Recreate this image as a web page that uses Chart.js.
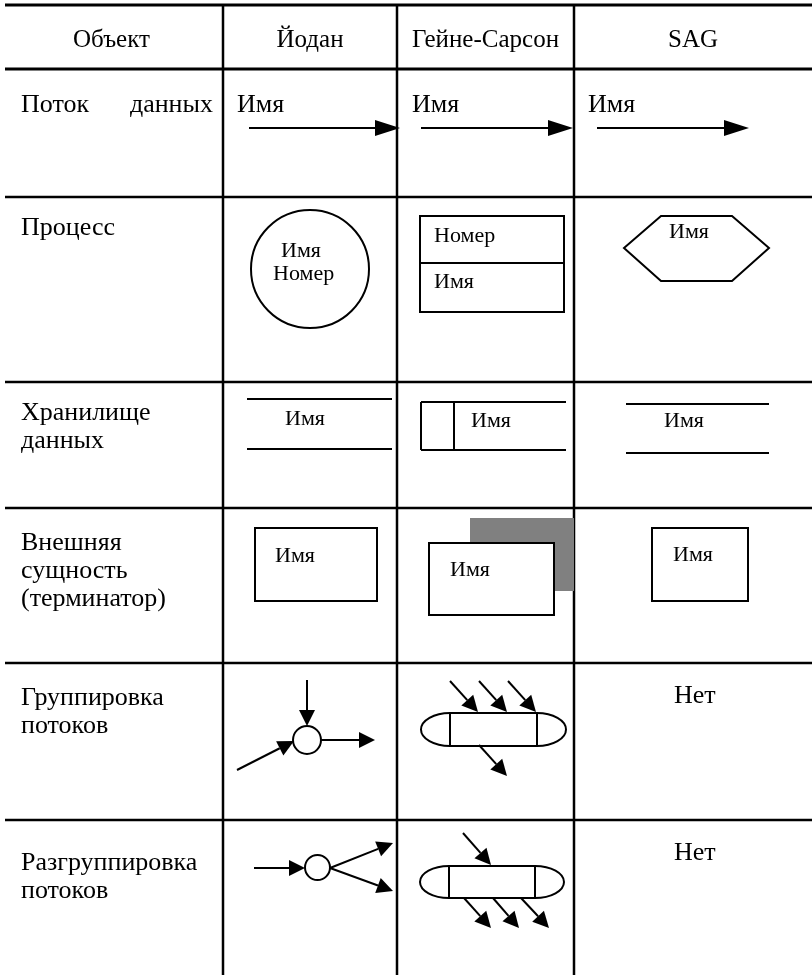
<!DOCTYPE html>
<html>
<head>
<meta charset="utf-8">
<script src="https://cdn.jsdelivr.net/npm/chart.js@4/dist/chart.umd.min.js"></script>
<style>
  html, body { margin: 0; padding: 0; background: #fff; }
  canvas { display: block; }
</style>
</head>
<body>
<canvas id="table" width="812" height="975"></canvas>
<script>
// table content
const columns = ['Объект', 'Йодан', 'Гейне-Сарсон', 'SAG'];
const rowLabels = [
  ['Поток данных'],
  ['Процесс'],
  ['Хранилище', 'данных'],
  ['Внешняя', 'сущность', '(терминатор)'],
  ['Группировка', 'потоков'],
  ['Разгруппировка', 'потоков']
];
const noEquivalent = 'Нет';   // SAG has no grouping symbols
const symbolName = 'Имя';
const symbolNumber = 'Номер';

// grid of the table, in the same units as the (hidden) axes
const colEdges = [5, 223, 397, 574, 812];
const rowEdges = [5, 69, 197, 382, 508, 663, 820, 975];
const labelBaselines = [112, 235, 420, 550, 705, 870];

const FONT = '"Liberation Serif", "Times New Roman", serif';

// symbols for each notation, drawn in axis units
const symbols = [
  // data flow
  { t: 'text', s: symbolName, x: 237, y: 112, f: 26 },
  { t: 'arrow', a: [249, 128, 400, 128], hl: 25, hw: 8 },
  { t: 'text', s: symbolName, x: 412, y: 112, f: 26 },
  { t: 'arrow', a: [421, 128, 573, 128], hl: 25, hw: 8 },
  { t: 'text', s: symbolName, x: 588, y: 112, f: 26 },
  { t: 'arrow', a: [597, 128, 749, 128], hl: 25, hw: 8 },
  // process
  { t: 'circle', x: 310, y: 269, r: 59 },
  { t: 'text', s: symbolName, x: 281, y: 257, f: 22 },
  { t: 'text', s: symbolNumber, x: 273, y: 280, f: 22 },
  { t: 'rect', a: [420, 216, 564, 312] },
  { t: 'line', a: [420, 263, 564, 263] },
  { t: 'text', s: symbolNumber, x: 434, y: 242, f: 22 },
  { t: 'text', s: symbolName, x: 434, y: 288, f: 22 },
  { t: 'poly', p: [624, 248, 661, 216, 732, 216, 769, 248, 732, 281, 661, 281] },
  { t: 'text', s: symbolName, x: 669, y: 238, f: 22 },
  // data store
  { t: 'line', a: [247, 399, 392, 399] },
  { t: 'line', a: [247, 449, 392, 449] },
  { t: 'text', s: symbolName, x: 285, y: 425, f: 22 },
  { t: 'line', a: [421, 402, 566, 402] },
  { t: 'line', a: [421, 450, 566, 450] },
  { t: 'line', a: [421, 402, 421, 450] },
  { t: 'line', a: [454, 402, 454, 450] },
  { t: 'text', s: symbolName, x: 471, y: 427, f: 22 },
  { t: 'line', a: [626, 404, 769, 404] },
  { t: 'line', a: [626, 453, 769, 453] },
  { t: 'text', s: symbolName, x: 664, y: 427, f: 22 },
  // external entity
  { t: 'rect', a: [255, 528, 377, 601] },
  { t: 'text', s: symbolName, x: 275, y: 562, f: 22 },
  { t: 'fill', a: [470, 518, 574, 591], c: '#808080' },
  { t: 'rect', a: [429, 543, 554, 615], bg: '#fff' },
  { t: 'text', s: symbolName, x: 450, y: 576, f: 22 },
  { t: 'rect', a: [652, 528, 748, 601] },
  { t: 'text', s: symbolName, x: 673, y: 561, f: 22 },
  // flow grouping
  { t: 'circle', x: 307, y: 740, r: 14 },
  { t: 'arrow', a: [307, 680, 307, 726], hl: 16, hw: 8 },
  { t: 'arrow', a: [237, 770, 294, 741], hl: 16, hw: 8 },
  { t: 'arrow', a: [321, 740, 375, 740], hl: 16, hw: 8 },
  { t: 'capsule', a: [450, 713, 537, 746], cap: 29 },
  { t: 'arrow', a: [450, 681, 478, 712], hl: 16, hw: 8 },
  { t: 'arrow', a: [479, 681, 507, 712], hl: 16, hw: 8 },
  { t: 'arrow', a: [508, 681, 536, 712], hl: 16, hw: 8 },
  { t: 'arrow', a: [479, 745, 507, 776], hl: 16, hw: 8 },
  { t: 'text', s: noEquivalent, x: 674, y: 703, f: 26 },
  // flow ungrouping
  { t: 'circle', x: 317.5, y: 867.5, r: 12.5 },
  { t: 'arrow', a: [254, 868, 305, 868], hl: 16, hw: 8 },
  { t: 'arrow', a: [330, 868, 393, 843], hl: 16, hw: 8 },
  { t: 'arrow', a: [330, 868, 393, 891], hl: 16, hw: 8 },
  { t: 'capsule', a: [449, 866, 535, 898], cap: 29 },
  { t: 'arrow', a: [463, 833, 491, 865], hl: 16, hw: 8 },
  { t: 'arrow', a: [464, 898, 491, 928], hl: 16, hw: 8 },
  { t: 'arrow', a: [493, 898, 519, 928], hl: 16, hw: 8 },
  { t: 'arrow', a: [521, 898, 549, 928], hl: 16, hw: 8 },
  { t: 'text', s: noEquivalent, x: 674, y: 860, f: 26 }
];

const tablePlugin = {
  id: 'tablePlugin',
  afterDraw(chart) {
    const ctx = chart.ctx;
    const X = v => chart.scales.x.getPixelForValue(v);
    const Y = v => chart.scales.y.getPixelForValue(v);
    const ink = '#000';

    ctx.save();
    ctx.strokeStyle = ink;
    ctx.fillStyle = ink;

    // horizontal rules
    rowEdges.slice(0, -1).forEach((y, i) => {
      ctx.lineWidth = i < 2 ? 3 : 2.5;
      ctx.beginPath();
      ctx.moveTo(X(colEdges[0]), Y(y));
      ctx.lineTo(X(colEdges[colEdges.length - 1]), Y(y));
      ctx.stroke();
    });
    // vertical rules
    ctx.lineWidth = 2.5;
    colEdges.slice(1, -1).forEach(x => {
      ctx.beginPath();
      ctx.moveTo(X(x), Y(rowEdges[0]));
      ctx.lineTo(X(x), Y(rowEdges[rowEdges.length - 1]));
      ctx.stroke();
    });

    // header
    ctx.font = '25px ' + FONT;
    ctx.textAlign = 'center';
    ctx.textBaseline = 'alphabetic';
    columns.forEach((c, i) => {
      const left = i === 0 ? 0 : colEdges[i];
      ctx.fillText(c, X((left + colEdges[i + 1]) / 2), Y(47));
    });

    // row labels
    ctx.font = '26px ' + FONT;
    ctx.textAlign = 'left';
    rowLabels.forEach((lines, r) => {
      lines.forEach((line, k) => {
        const y = Y(labelBaselines[r] + k * 28);
        const words = line.split(' ');
        if (r === 0 && words.length > 1) {
          // justified line
          ctx.fillText(words[0], X(21), y);
          ctx.textAlign = 'right';
          ctx.fillText(words[1], X(213), y);
          ctx.textAlign = 'left';
        } else {
          ctx.fillText(line, X(21), y);
        }
      });
    });

    // symbols
    ctx.lineWidth = 2;
    symbols.forEach(s => {
      if (s.t === 'text') {
        ctx.font = s.f + 'px ' + FONT;
        ctx.fillText(s.s, X(s.x), Y(s.y));
      } else if (s.t === 'line') {
        ctx.beginPath();
        ctx.moveTo(X(s.a[0]), Y(s.a[1]));
        ctx.lineTo(X(s.a[2]), Y(s.a[3]));
        ctx.stroke();
      } else if (s.t === 'rect' || s.t === 'fill') {
        const x0 = X(s.a[0]), y0 = Y(s.a[1]);
        const w = X(s.a[2]) - x0, h = Y(s.a[3]) - y0;
        if (s.t === 'fill') {
          ctx.fillStyle = s.c;
          ctx.fillRect(x0, y0, w, h);
          ctx.fillStyle = ink;
        } else {
          if (s.bg) { ctx.fillStyle = s.bg; ctx.fillRect(x0, y0, w, h); ctx.fillStyle = ink; }
          ctx.strokeRect(x0, y0, w, h);
        }
      } else if (s.t === 'circle') {
        ctx.beginPath();
        ctx.arc(X(s.x), Y(s.y), X(s.x + s.r) - X(s.x), 0, Math.PI * 2);
        ctx.stroke();
      } else if (s.t === 'poly') {
        ctx.beginPath();
        for (let i = 0; i < s.p.length; i += 2) {
          const px = X(s.p[i]), py = Y(s.p[i + 1]);
          if (i === 0) ctx.moveTo(px, py); else ctx.lineTo(px, py);
        }
        ctx.closePath();
        ctx.stroke();
      } else if (s.t === 'capsule') {
        const x0 = X(s.a[0]), y0 = Y(s.a[1]), x1 = X(s.a[2]), y1 = Y(s.a[3]);
        const cy = (y0 + y1) / 2, ry = (y1 - y0) / 2, rx = X(s.a[0] + s.cap) - x0;
        ctx.beginPath();
        ctx.moveTo(x0, y0);
        ctx.lineTo(x1, y0);
        ctx.ellipse(x1, cy, rx, ry, 0, -Math.PI / 2, Math.PI / 2);
        ctx.lineTo(x0, y1);
        ctx.ellipse(x0, cy, rx, ry, 0, Math.PI / 2, Math.PI * 1.5);
        ctx.closePath();
        ctx.stroke();
        ctx.beginPath();
        ctx.moveTo(x0, y0); ctx.lineTo(x0, y1);
        ctx.moveTo(x1, y0); ctx.lineTo(x1, y1);
        ctx.stroke();
      } else if (s.t === 'arrow') {
        const x0 = X(s.a[0]), y0 = Y(s.a[1]), x1 = X(s.a[2]), y1 = Y(s.a[3]);
        const ang = Math.atan2(y1 - y0, x1 - x0);
        const bx = x1 - s.hl * Math.cos(ang), by = y1 - s.hl * Math.sin(ang);
        ctx.beginPath();
        ctx.moveTo(x0, y0);
        ctx.lineTo(bx, by);
        ctx.stroke();
        ctx.beginPath();
        ctx.moveTo(x1, y1);
        ctx.lineTo(bx - s.hw * Math.sin(ang), by + s.hw * Math.cos(ang));
        ctx.lineTo(bx + s.hw * Math.sin(ang), by - s.hw * Math.cos(ang));
        ctx.closePath();
        ctx.fill();
      }
    });
    ctx.restore();
  }
};

new Chart(document.getElementById('table'), {
  type: 'scatter',
  data: { datasets: [{ data: [], pointRadius: 0 }] },
  options: {
    responsive: false,
    animation: false,
    devicePixelRatio: 1,
    layout: { padding: 0 },
    plugins: { legend: { display: false }, tooltip: { enabled: false } },
    scales: {
      x: { type: 'linear', min: 0, max: 812, display: false },
      y: { type: 'linear', min: 0, max: 975, reverse: true, display: false }
    }
  },
  plugins: [tablePlugin]
});
</script>
</body>
</html>
